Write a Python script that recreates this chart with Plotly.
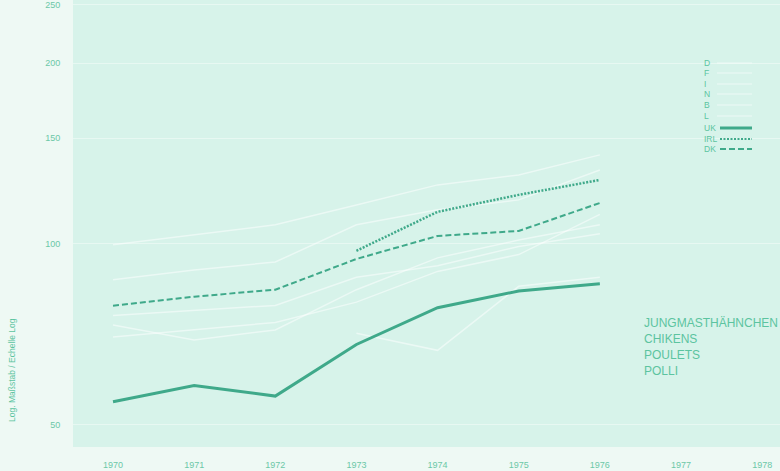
import plotly.graph_objects as go
import math

years = [1970, 1971, 1972, 1973, 1974, 1975, 1976]

# Main highlighted series
uk = [54.6, 58.1, 55.8, 68.0, 78.3, 83.5, 85.8]
irl = [None, None, None, 97.4, 113.1, 120.7, 127.8]
dk = [78.9, 81.7, 83.9, 94.4, 103.1, 105.1, 117.0]

# Faint (white) series
d_vals = [99.7, 103.5, 107.6, 116.1, 125.4, 130.3, 140.7]
f_vals = [87.2, 90.5, 93.3, 107.6, 114.0, 118.4, 132.8]
i_vals = [73.3, 69.2, 71.9, 83.9, 94.8, 101.5, 107.6]
n_vals = [76.0, 77.5, 79.0, 88.0, 92.0, 99.0, 104.0]
b_vals = [None, None, None, 71.0, 66.5, 85.0, 88.0]
l_vals = [70.0, 72.0, 74.0, 80.0, 90.0, 96.0, 112.0]

y_ticks = [50, 100, 150, 200, 250]
x_ticks = [1970, 1971, 1972, 1973, 1974, 1975, 1976, 1977, 1978]

legend_labels = ["D", "F", "I", "N", "B", "L", "UK", "IRL", "DK"]
title_lines = ["JUNGMASTHÄHNCHEN", "CHIKENS", "POULETS", "POLLI"]

GREEN = "#3fa98a"
TXT = "#5cc4a0"
TICK = "#6cc8a7"
WHITE = "rgba(255,255,255,0.5)"

fig = go.Figure()

for vals in [d_vals, f_vals, i_vals, n_vals, b_vals, l_vals]:
    fig.add_trace(go.Scatter(x=years, y=vals, mode="lines",
                             line=dict(color=WHITE, width=1.5),
                             connectgaps=False, showlegend=False, hoverinfo="skip"))

fig.add_trace(go.Scatter(x=years, y=dk, mode="lines",
                         line=dict(color=GREEN, width=2, dash="6px,3px"), showlegend=False))
fig.add_trace(go.Scatter(x=years, y=irl, mode="lines",
                         line=dict(color=GREEN, width=2.5, dash="2px,1.5px"), showlegend=False))
fig.add_trace(go.Scatter(x=years, y=uk, mode="lines",
                         line=dict(color=GREEN, width=3), showlegend=False))

W, H = 780, 471
L_M, R_M, T_M, B_M = 73, 0, 0, 24
PW = W - L_M - R_M
PH = H - T_M - B_M

def px(x):
    return (x - L_M) / PW

def py(y):
    return (H - B_M - y) / PH

annotations = []
shapes = []

# legend
rows = [63, 73, 84, 94, 105, 116, 128, 139, 149]
styles = [None] * 6 + [("solid", 3), ("dot", 2), ("dash", 2)]
for lab, ry, st in zip(legend_labels, rows, styles):
    annotations.append(dict(x=px(702), y=py(ry), xref="paper", yref="paper",
                            text=lab, showarrow=False, xanchor="left", yanchor="middle",
                            font=dict(family="Liberation Sans, Arial", size=8.5, color=TXT)))
    if st is None:
        shapes.append(dict(type="line", xref="paper", yref="paper",
                           x0=px(717), x1=px(752), y0=py(ry), y1=py(ry),
                           line=dict(color="rgba(255,255,255,0.55)", width=1.2)))
    else:
        dash = {"solid": "solid", "dot": "2px,1.5px", "dash": "6px,3px"}[st[0]]
        shapes.append(dict(type="line", xref="paper", yref="paper",
                           x0=px(720), x1=px(752), y0=py(ry), y1=py(ry),
                           line=dict(color=GREEN, width=st[1], dash=dash)))

# title block
for t, ty in zip(title_lines, [323, 339, 355, 371]):
    annotations.append(dict(x=px(642), y=py(ty), xref="paper", yref="paper",
                            text=t, showarrow=False, xanchor="left", yanchor="middle",
                            font=dict(family="Liberation Sans, Arial", size=12, color=TXT)))

# y axis title
annotations.append(dict(x=px(12), y=py(370), xref="paper", yref="paper",
                        text="Log. Maßstab / Echelle Log", showarrow=False, textangle=-90,
                        xanchor="center", yanchor="middle",
                        font=dict(family="Liberation Sans, Arial", size=8.5, color=TXT)))

fig.update_layout(
    width=W, height=H,
    margin=dict(l=L_M, r=R_M, t=T_M, b=B_M),
    paper_bgcolor="#eef9f4",
    plot_bgcolor="#d7f3ea",
    annotations=annotations,
    shapes=shapes,
    showlegend=False,
)

fig.update_xaxes(
    range=[1969.507, 1978.22],
    tickvals=x_ticks, ticktext=[str(v) for v in x_ticks],
    showgrid=False, zeroline=False, showline=False,
    ticks="outside", ticklen=9, tickcolor="rgba(0,0,0,0)",
    tickfont=dict(family="Liberation Sans, Arial", size=9, color=TICK),
    ticklabeloverflow="allow",
)
fig.update_yaxes(
    type="log",
    range=[math.log10(45.9), math.log10(254.8)],
    tickvals=y_ticks, ticktext=[str(v) for v in y_ticks],
    showgrid=True, gridcolor="rgba(255,255,255,0.4)", gridwidth=1,
    zeroline=False, showline=False,
    ticks="outside", ticklen=10, tickcolor="rgba(0,0,0,0)",
    tickfont=dict(family="Liberation Sans, Arial", size=9, color=TICK),
    ticklabeloverflow="allow",
)

fig.write_html("out.html",
               config={"displayModeBar": False},
               post_script="document.body.style.margin='0';document.body.style.padding='0';document.body.style.overflow='hidden';")
